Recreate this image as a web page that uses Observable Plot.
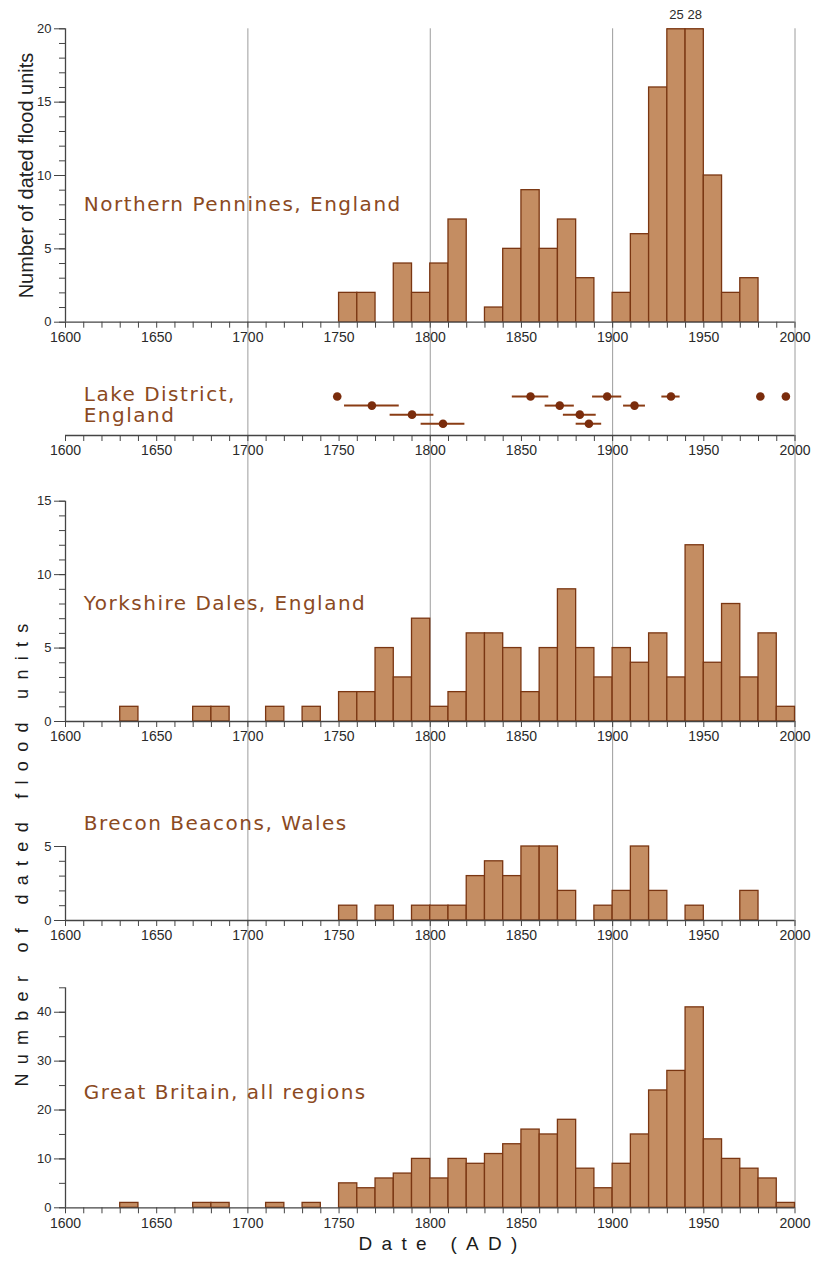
<!DOCTYPE html>
<html><head><meta charset="utf-8">
<script src="https://cdn.jsdelivr.net/npm/d3@7"></script>
<script src="https://cdn.jsdelivr.net/npm/@observablehq/plot@0.6"></script>
<style>
body{margin:0;background:#fff;}
#fig{position:relative;width:815px;height:1261px;background:#fff;}
#fig svg{position:absolute;left:0;overflow:visible;background:transparent;}
</style></head><body><div id="fig"></div>
<script>
// ---- data ----
const binStart = [1600,1610,1620,1630,1640,1650,1660,1670,1680,1690,
                  1700,1710,1720,1730,1740,1750,1760,1770,1780,1790,
                  1800,1810,1820,1830,1840,1850,1860,1870,1880,1890,
                  1900,1910,1920,1930,1940,1950,1960,1970,1980,1990];
const northernPennines = [0,0,0,0,0,0,0,0,0,0, 0,0,0,0,0,2,2,0,4,2, 4,7,0,1,5,9,5,7,3,0, 2,6,16,25,28,10,2,3,0,0];
const yorkshireDales   = [0,0,0,1,0,0,0,1,1,0, 0,1,0,1,0,2,2,5,3,7, 1,2,6,6,5,2,5,9,5,3, 5,4,6,3,12,4,8,3,6,1];
const breconBeacons    = [0,0,0,0,0,0,0,0,0,0, 0,0,0,0,0,1,0,1,0,1, 1,1,3,4,3,5,5,2,0,1, 2,5,2,0,1,0,0,2,0,0];
const greatBritain     = [0,0,0,1,0,0,0,1,1,0, 0,1,0,1,0,5,4,6,7,10, 6,10,9,11,13,16,15,18,8,4, 9,15,24,28,41,14,10,8,6,1];

// Lake District dated floods (row 4 = top row)
const lakeYear = [1749,1855,1897,1932,1981,1995, 1768,1871,1912, 1790,1882, 1807,1887];
const lakeLo   = [1749,1845,1889,1927,1981,1995, 1753,1863,1906, 1778,1873, 1795,1880];
const lakeHi   = [1749,1865,1905,1937,1981,1995, 1783,1879,1918, 1802,1891, 1819,1894];
const lakeRow  = [4,4,4,4,4,4, 3,3,3, 2,2, 1,1];

const regionNames = ["Northern Pennines, England","Lake District,\nEngland","Yorkshire Dales, England","Brecon Beacons, Wales","Great Britain, all regions"];
const xTicks = [1600,1610,1620,1630,1640,1650,1660,1670,1680,1690,1700,1710,1720,1730,1740,1750,1760,1770,1780,1790,
                1800,1810,1820,1830,1840,1850,1860,1870,1880,1890,1900,1910,1920,1930,1940,1950,1960,1970,1980,1990,2000];
const xLabels = [1600,1650,1700,1750,1800,1850,1900,1950,2000];
const centuries = [1700,1800,1900,2000];
const yTicksNP = {major:[0,5,10,15,20], minor:[0,1,2,3,4,5,6,7,8,9,10,11,12,13,14,15,16,17,18,19,20]};
const yTicksYD = {major:[0,5,10,15], minor:[0,1,2,3,4,5,6,7,8,9,10,11,12,13,14,15]};
const yTicksBB = {major:[0,5], minor:[0,1,2,3,4,5]};
const yTicksGB = {major:[0,10,20,30,40], minor:[0,5,10,15,20,25,30,35,40,45]};
const yTitle = "Number of dated flood units";
const xTitle = "Date (AD)";

// ---- style ----
const FILL = "#c48d62", EDGE = "#7a3612", LABEL = "#8b4a1f", GRID = "#9c9c9c", AX = "#444", TXT = "#2a2a2a";
const SPACED = "#1b1b1b";
const W = 815, ML = 65, MR = 20.5;
const fig = document.getElementById("fig");

function bins(counts){
  return binStart.map((s,i)=>({start:s, end:s+10, count:counts[i]})).filter(d=>d.count>0);
}
function xAxis(){
  return Plot.axisX({ticks: xTicks, tickSize: 6, tickPadding: 4, color: AX, fill: TXT,
    fontSize: 14, fontFamily: "Liberation Sans",
    tickFormat: d => xLabels.includes(d) ? String(d) : ""});
}
function yAxis(t){
  return [
    Plot.axisY({ticks: t.minor, tickSize: 6, color: AX, tickFormat: () => ""}),
    Plot.axisY({ticks: t.major, tickSize: 11, tickPadding: 3, color: AX, fill: TXT,
      fontSize: 13, fontFamily: "Liberation Sans", tickFormat: d => String(d)})
  ];
}
function panel({top, frameTop, frameBottom, bottom, yDomain, marks}){
  const mt = frameTop - top, mb = bottom - frameBottom;
  const grid = Plot.ruleX(centuries, {stroke: GRID, strokeWidth: 1,
    insetTop: top === 0 ? 0 : -mt, insetBottom: bottom >= 1261 ? 0 : -mb});
  const plot = Plot.plot({
    width: W, height: bottom - top, marginTop: mt, marginBottom: mb, marginLeft: ML, marginRight: MR,
    x: {domain: [1600, 2000], label: null},
    y: {domain: yDomain, label: null, axis: null},
    style: {background: "transparent", overflow: "visible", fontFamily: "Liberation Sans"},
    marks: [grid, ...marks]
  });
  plot.style.top = top + "px";
  fig.append(plot);
}
function histMarks(counts, yMax, ticks, label, labelY, clip){
  const data = bins(counts);
  const marks = [
    Plot.rectY(data, {x1: "start", x2: "end", y: "count", fill: FILL, stroke: EDGE, strokeWidth: 1.3, clip: !!clip}),
    Plot.ruleY([0], {x1: 1600, x2: 2000, stroke: AX, strokeWidth: 1.3}),
    Plot.ruleX([1600], {y1: 0, y2: yMax, stroke: AX, strokeWidth: 1.3}),
    ...yAxis(ticks),
    xAxis(),
    Plot.text([label], {x: 1610, y: labelY, text: d => d, textAnchor: "start", fill: LABEL, fontSize: 20, fontFamily: "DejaVu Sans"})
  ];
  if (clip) {
    const over = data.filter(d => d.count > yMax);
    marks.push(Plot.ruleY(over, {x1: "start", x2: "end", y: yMax, stroke: EDGE, strokeWidth: 1.3}));
    marks.push(Plot.text(over, {x: d => d.start + 5, y: yMax, text: d => String(d.count), dy: -14,
      fill: TXT, fontSize: 13, fontFamily: "Liberation Sans"}));
  }
  return marks;
}

// Panel 1: Northern Pennines
panel({top: 0, frameTop: 28.3, frameBottom: 321.7, bottom: 360, yDomain: [0, 20],
  marks: [
    ...histMarks(northernPennines, 20, yTicksNP, regionNames[0], 8, true),
    Plot.text([yTitle], {frameAnchor: "left", textAnchor: "middle", dx: -39, rotate: -90, text: d => d, fill: "#222",
      fontSize: 20, fontFamily: "Liberation Sans"})
  ]});

// Panel 2: Lake District
const lake = lakeYear.map((y,i)=>({year: y, lo: lakeLo[i], hi: lakeHi[i], row: lakeRow[i]}));
panel({top: 360, frameTop: 391.5, frameBottom: 435, bottom: 470, yDomain: [-0.3, 4.5],
  marks: [
    Plot.ruleY(lake.filter(d => d.hi > d.lo), {x1: "lo", x2: "hi", y: "row", stroke: "#8a3c14", strokeWidth: 2}),
    Plot.dot(lake, {x: "year", y: "row", r: 4.3, fill: "#7a2c0c", stroke: "none"}),
    Plot.ruleY([-0.3], {x1: 1600, x2: 2000, stroke: AX, strokeWidth: 1.3}),
    xAxis(),
    Plot.text([regionNames[1]], {x: 1610, y: 3.1, text: d => d, textAnchor: "start", lineHeight: 1.05,
      fill: LABEL, fontSize: 20, fontFamily: "DejaVu Sans"})
  ]});

// Panel 3: Yorkshire Dales
panel({top: 470, frameTop: 500.7, frameBottom: 721, bottom: 775, yDomain: [0, 15],
  marks: histMarks(yorkshireDales, 15, yTicksYD, regionNames[2], 8)});

// Panel 4: Brecon Beacons
panel({top: 775, frameTop: 846, frameBottom: 920, bottom: 960, yDomain: [0, 5],
  marks: [
    ...histMarks(breconBeacons, 5, yTicksBB, regionNames[3], 6.57),
    Plot.text([yTitle], {frameAnchor: "left", textAnchor: "middle", dx: -43, dy: -33, rotate: -90, text: d => d, fill: SPACED,
      fontSize: 18, fontFamily: "Liberation Sans"})
  ]});

// Panel 5: Great Britain
panel({top: 960, frameTop: 987.3, frameBottom: 1207.3, bottom: 1261, yDomain: [0, 45],
  marks: [
    ...histMarks(greatBritain, 45, yTicksGB, regionNames[4], 23.5),
    Plot.text([xTitle], {frameAnchor: "bottom-left", dx: 293, dy: 42, textAnchor: "start", text: d => d,
      fill: SPACED, fontSize: 19, fontFamily: "Liberation Sans"})
  ]});

d3.selectAll(`#fig g[fill="${LABEL}"]`).style("letter-spacing", "1.5px");
d3.selectAll(`#fig g[fill="${SPACED}"]`).style("letter-spacing", "9.3px");
</script></body></html>
